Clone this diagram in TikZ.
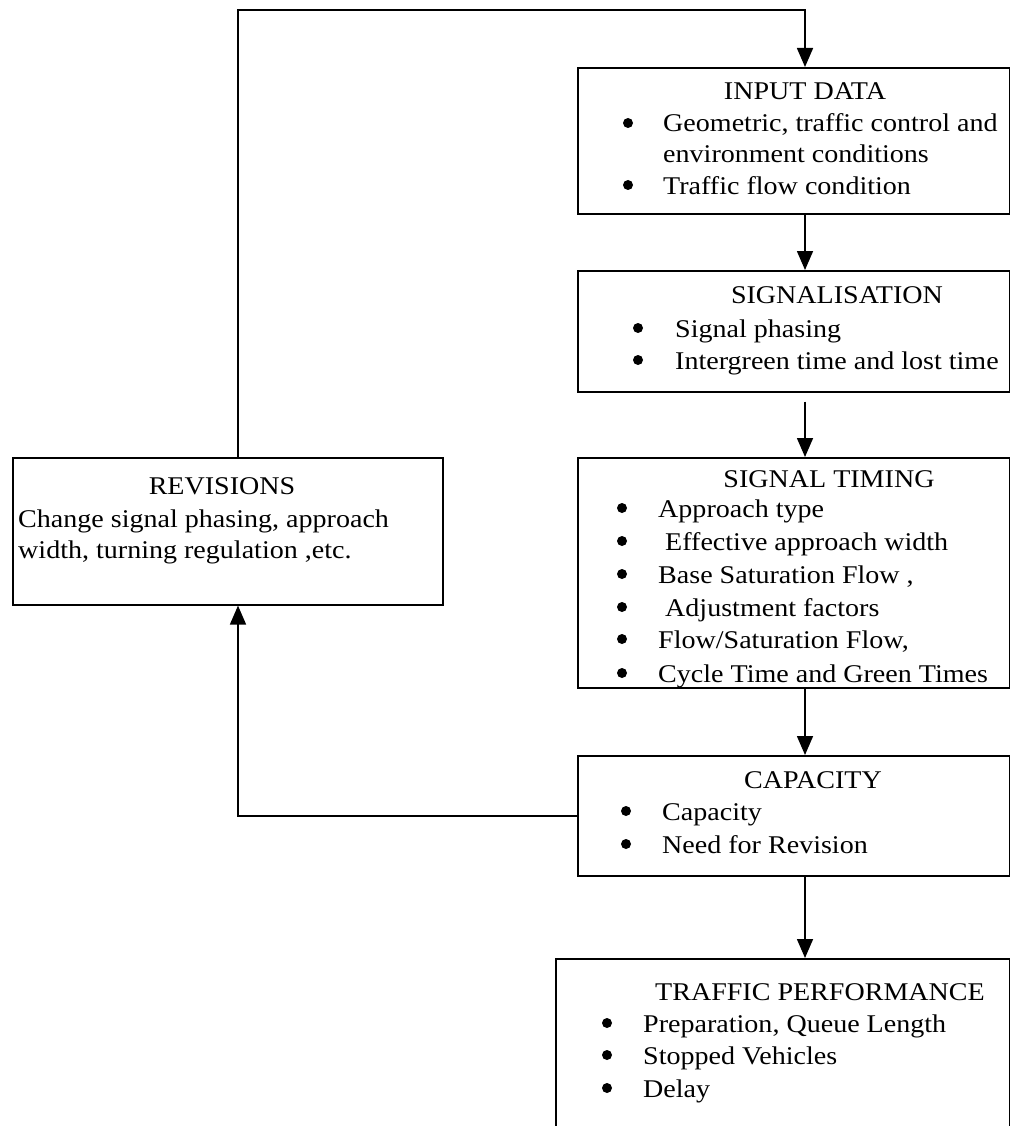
\documentclass[tikz,border=0pt]{standalone}
\usepackage{fontspec}
\setmainfont{Liberation Serif}[FakeStretch=1.1]
\usetikzlibrary{arrows.meta, positioning}

\begin{document}
\begin{tikzpicture}[
    x=1pt, y=-1pt,
    every node/.style={font=\fontsize{25.5}{32.6}\selectfont},
    box/.style={draw, line width=1.6pt, rectangle, inner sep=0pt, anchor=north west},
    head/.style={anchor=base, inner sep=0pt},
    item/.style={anchor=base west, inner sep=0pt},
    dot/.style={circle, fill, inner sep=0pt, minimum size=10pt, yshift=9pt},
    flow/.style={line width=1.6pt, -{Triangle[length=19pt, width=16pt]}}
]
\useasboundingbox (0,0) rectangle (1010,1126);
\clip (0,0) rectangle (1010,1126);

% columns of the connectors
\coordinate (spine) at (805,0);
\coordinate (loop) at (238,10);

% input data
\node[box, minimum width=431.5pt, minimum height=146pt] (input) at (577,67) {};
\node[head] (inputhead) at (805,100) {INPUT DATA};
\node[dot] (inputdot1) at (628,132) {};
\node[item] (inputitem1) at (663,132) {Geometric, traffic control and};
\node[item] (inputitem1b) at (663,163) {environment conditions};
\node[dot] (inputdot2) at (628,194) {};
\node[item] (inputitem2) at (663,194) {Traffic flow condition};

% signalisation
\node[box, minimum width=431.5pt, minimum height=121pt] (signal) at (577,270) {};
\node[head] (signalhead) at (837,303) {SIGNALISATION};
\node[dot] (signaldot1) at (638,337) {};
\node[item] (signalitem1) at (675,337) {Signal phasing};
\node[dot] (signaldot2) at (638,369) {};
\node[item] (signalitem2) at (675,369) {Intergreen time and lost time};

% signal timing
\node[box, minimum width=431.5pt, minimum height=230pt] (timing) at (577,457) {};
\node[head] (timinghead) at (829,487) {SIGNAL TIMING};
\node[dot] (timingdot1) at (622,517) {};
\node[item] (timingitem1) at (658,517) {Approach type};
\node[dot] (timingdot2) at (622,550) {};
\node[item] (timingitem2) at (665,550) {Effective approach width};
\node[dot] (timingdot3) at (622,583) {};
\node[item] (timingitem3) at (658,583) {Base Saturation Flow ,};
\node[dot] (timingdot4) at (622,616) {};
\node[item] (timingitem4) at (665,616) {Adjustment factors};
\node[dot] (timingdot5) at (622,648) {};
\node[item] (timingitem5) at (658,648) {Flow/Saturation Flow,};
\node[dot] (timingdot6) at (622,682) {};
\node[item] (timingitem6) at (658,682) {Cycle Time and Green Times};

% capacity
\node[box, minimum width=431.5pt, minimum height=120pt] (capacity) at (577,755) {};
\node[head] (capacityhead) at (813,788) {CAPACITY};
\node[dot] (capacitydot1) at (626,820) {};
\node[item] (capacityitem1) at (662,820) {Capacity};
\node[dot] (capacitydot2) at (626,853) {};
\node[item] (capacityitem2) at (662,853) {Need for Revision};

% traffic performance
\node[box, minimum width=453.5pt, minimum height=200pt] (perform) at (555,958) {};
\node[head] (performhead) at (820,1000) {TRAFFIC PERFORMANCE};
\node[dot] (performdot1) at (607,1032) {};
\node[item] (performitem1) at (643,1032) {Preparation, Queue Length};
\node[dot] (performdot2) at (607,1064) {};
\node[item] (performitem2) at (643,1064) {Stopped Vehicles};
\node[dot] (performdot3) at (607,1097) {};
\node[item] (performitem3) at (643,1097) {Delay};

% revisions
\node[box, minimum width=430pt, minimum height=147pt] (revisions) at (12,457) {};
\node[head] (revisionshead) at (222,494) {REVISIONS};
\node[item] (revisionsline1) at (18,527) {Change signal phasing, approach};
\node[item] (revisionsline2) at (18,558) {width, turning regulation ,etc.};

% connectors
\draw[flow] (spine |- input.south) -- (spine |- signal.north);
\draw[flow, shorten <=9pt] (spine |- signal.south) -- (spine |- timing.north);
\draw[flow] (spine |- timing.south) -- (spine |- capacity.north);
\draw[flow] (spine |- capacity.south) -- (spine |- perform.north);
\draw[flow] (capacity.west) -| (loop |- revisions.south);
\draw[flow] (loop |- revisions.north) -- (loop) -| (spine |- input.north);
\end{tikzpicture}
\end{document}
